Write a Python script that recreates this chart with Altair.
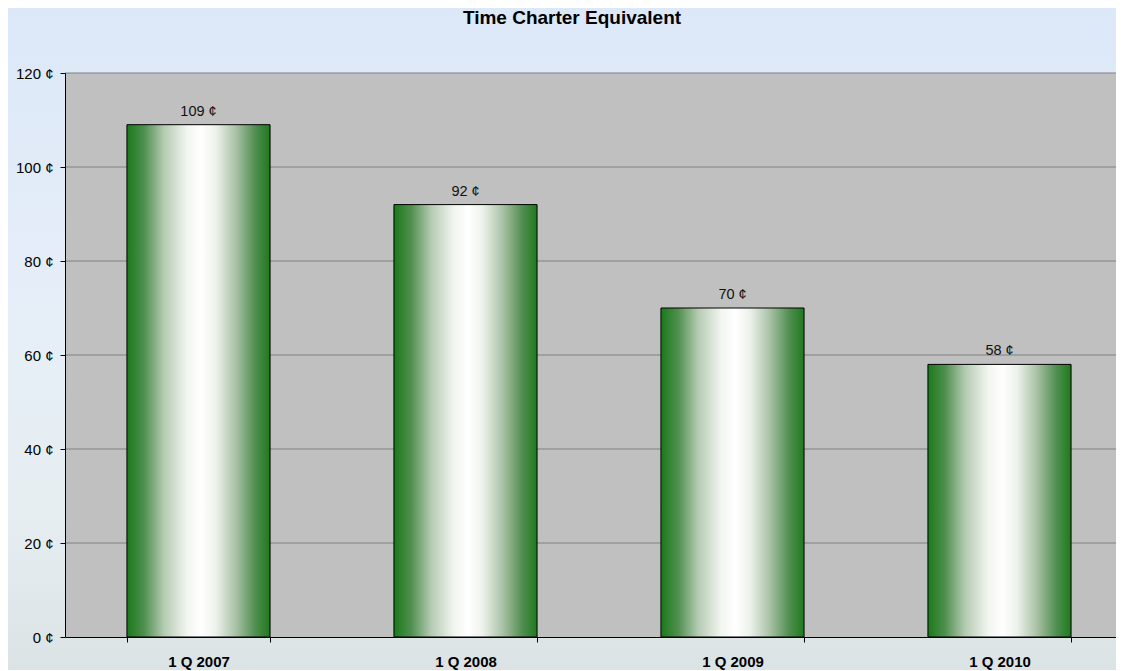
import altair as alt
import pandas as pd

categories = ["1 Q 2007", "1 Q 2008", "1 Q 2009", "1 Q 2010"]
values = [109, 92, 70, 58]
y_ticks = [0, 20, 40, 60, 80, 100, 120]
grid_values = [20, 40, 60, 80, 100, 120]
title_text = ["Time Charter Equivalent"]

W, H = 1051, 564          # visible plot area (fits the page width)
XR = 1068                 # full category range of the original plot (runs past the page edge)
FONT = "Liberation Sans"

df = pd.DataFrame({"cat": categories, "val": values})
df["label"] = [f"{v} ¢" for v in values]
grid_df = pd.DataFrame({"val": grid_values})
title_df = pd.DataFrame({"t": title_text})

yscale = alt.Scale(domain=[0, 120], nice=False)
xscale = alt.Scale(range=[0, XR], paddingInner=0.464, paddingOuter=0.232)

yaxis = alt.Axis(
    values=y_ticks, labelExpr="datum.value + ' ¢'", labelFont=FONT,
    labelFontSize=15, labelColor="#000000", domainColor="#000000",
    tickColor="#000000", tickSize=5, labelPadding=7, grid=False, zindex=1,
)
xaxis = alt.Axis(
    labelAngle=0, labelFont=FONT, labelFontSize=15, labelFontWeight="bold",
    labelColor="#000000", domainColor="#000000", tickColor="#000000",
    tickSize=5, tickBand="extent", labelPadding=12, zindex=1, grid=False,
)

bg_grad = alt.LinearGradient(
    gradient="linear", x1=0, x2=0, y1=0, y2=1,
    stops=[
        alt.GradientStop(color="#dce8f8", offset=0),
        alt.GradientStop(color="#e6eef8", offset=0.45),
        alt.GradientStop(color="#e6eef2", offset=0.75),
        alt.GradientStop(color="#dbe2e4", offset=1),
    ],
)
bar_grad = alt.LinearGradient(
    gradient="linear", x1=0, x2=1, y1=0, y2=0,
    stops=[
        alt.GradientStop(color="#1a7a1a", offset=0),
        alt.GradientStop(color="#4f8f4f", offset=0.12),
        alt.GradientStop(color="#b5cbb2", offset=0.26),
        alt.GradientStop(color="#f2f5f0", offset=0.42),
        alt.GradientStop(color="#ffffff", offset=0.52),
        alt.GradientStop(color="#eef2ec", offset=0.62),
        alt.GradientStop(color="#a9c2a6", offset=0.76),
        alt.GradientStop(color="#4f8d4f", offset=0.9),
        alt.GradientStop(color="#1e7a1e", offset=1),
    ],
)

one = alt.Data(values=[{"a": 1}])

bg = alt.Chart(one).mark_rect(fill=bg_grad).encode(
    x=alt.value(-60), x2=alt.value(W + 10), y=alt.value(-70), y2=alt.value(H + 45)
)
plot_bg = alt.Chart(one).mark_rect(fill="#c0c0c0").encode(
    x=alt.value(0), x2=alt.value(W), y=alt.value(0), y2=alt.value(H)
)
grid = alt.Chart(grid_df).mark_rule(color="#808080", strokeWidth=1).encode(
    y=alt.Y("val:Q", scale=yscale, axis=yaxis, title=None)
)

bars = alt.Chart(df).mark_bar(fill=bar_grad, stroke="#000000", strokeWidth=1).encode(
    x=alt.X("cat:N", sort=categories, scale=xscale, title=None, axis=xaxis),
    y=alt.Y("val:Q", scale=yscale, title=None, axis=yaxis),
)
labels = alt.Chart(df).mark_text(
    font=FONT, fontSize=14.5, color="#111111", baseline="alphabetic", dy=-9
).encode(
    x=alt.X("cat:N", sort=categories, scale=xscale, axis=xaxis, title=None),
    y=alt.Y("val:Q", scale=yscale, axis=yaxis, title=None),
    text="label:N",
)
title = alt.Chart(title_df).mark_text(
    font=FONT, fontSize=19, fontWeight="bold", color="#000000",
    align="center", baseline="alphabetic",
).encode(x=alt.value(507), y=alt.value(-49), text="t:N")

chart = alt.layer(bg, plot_bg, grid, bars, labels, title).properties(
    width=W, height=H,
    autosize=alt.AutoSizeParams(type="none"),
    padding={"left": 57, "top": 65, "right": 0, "bottom": 33},
).configure_view(strokeWidth=0).configure(background="#e2ebf5")

chart.save("out.html", embed_options={"renderer": "svg", "actions": False})
